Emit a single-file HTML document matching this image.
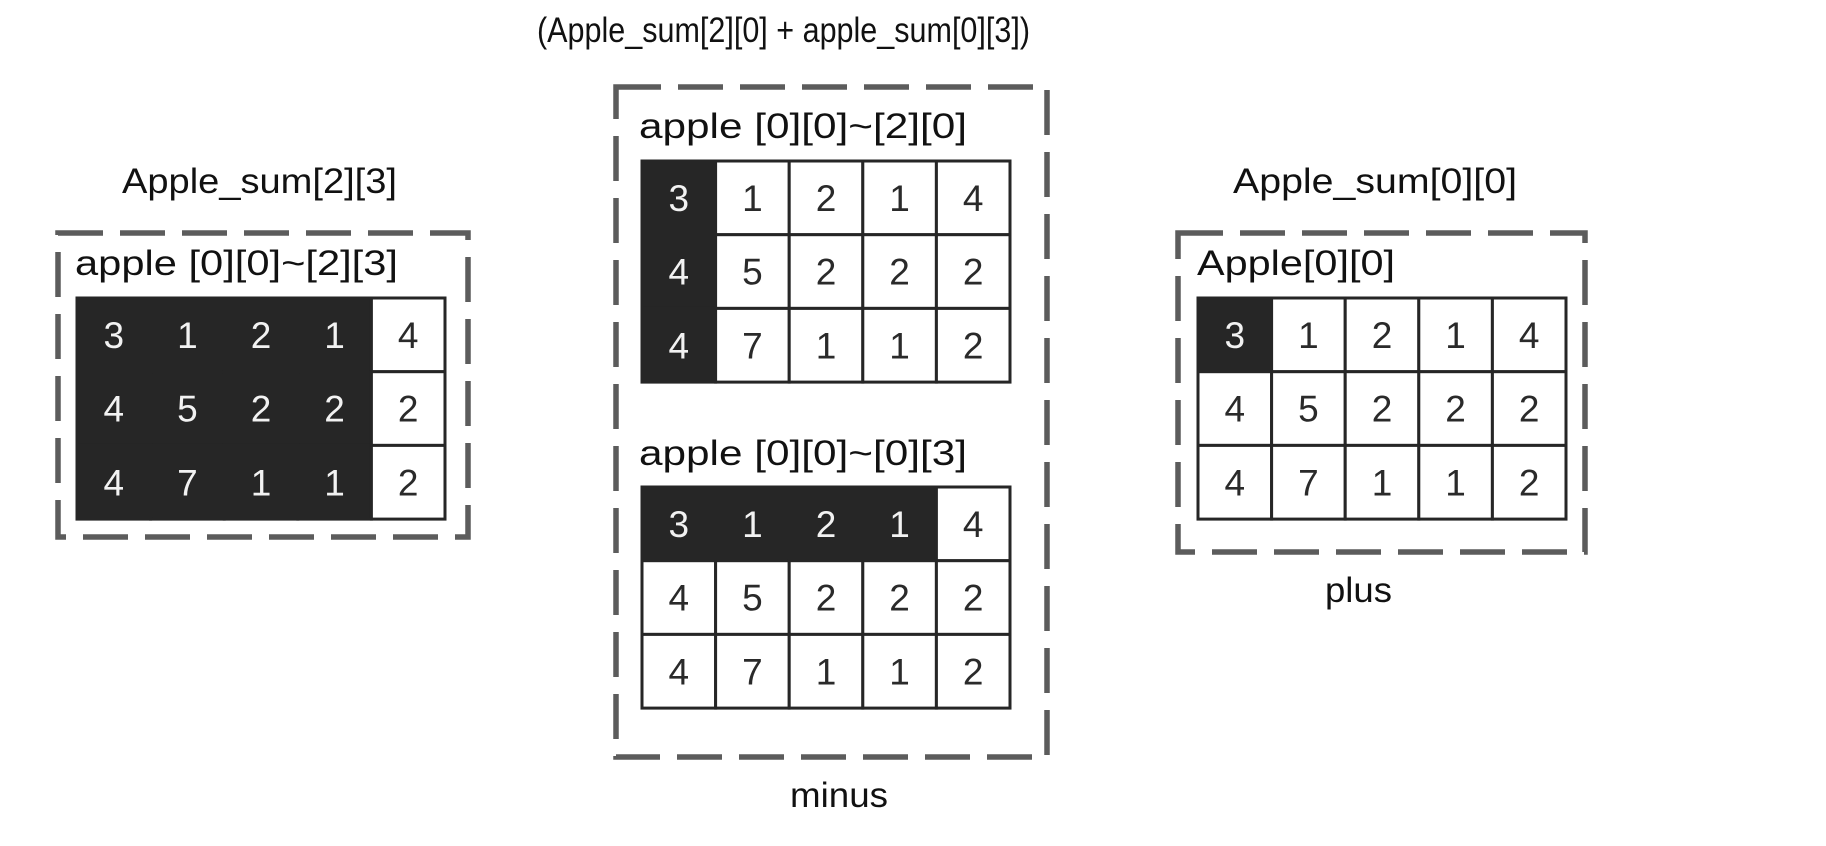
<!DOCTYPE html>
<html><head><meta charset="utf-8"><style>html,body{margin:0;padding:0;background:#fff}svg{display:block}</style></head>
<body>
<svg width="1826" height="846" viewBox="0 0 1826 846" xmlns="http://www.w3.org/2000/svg" font-family="Liberation Sans, DejaVu Sans, sans-serif">
<rect width="1826" height="846" fill="#fff"/>
<g fill="none" stroke="#5c5c5c" stroke-width="5.5" stroke-dasharray="45 17">
<rect x="58" y="233" width="410" height="304"/>
<rect x="616" y="87" width="431" height="670"/>
<rect x="1178" y="233" width="407" height="319"/>
</g>
<g fill="#111" font-size="35">
<text x="537" y="42" textLength="493" lengthAdjust="spacingAndGlyphs">(Apple_sum[2][0] + apple_sum[0][3])</text>
<text x="122" y="193" textLength="275" lengthAdjust="spacingAndGlyphs">Apple_sum[2][3]</text>
<text x="1233" y="193" textLength="284" lengthAdjust="spacingAndGlyphs">Apple_sum[0][0]</text>
<text x="75" y="275" textLength="323" lengthAdjust="spacingAndGlyphs">apple [0][0]~[2][3]</text>
<text x="639" y="138" textLength="328" lengthAdjust="spacingAndGlyphs">apple [0][0]~[2][0]</text>
<text x="639" y="465" textLength="328" lengthAdjust="spacingAndGlyphs">apple [0][0]~[0][3]</text>
<text x="1197" y="275" textLength="198" lengthAdjust="spacingAndGlyphs">Apple[0][0]</text>
<text x="790" y="807" textLength="98" lengthAdjust="spacingAndGlyphs">minus</text>
<text x="1325" y="602" textLength="67" lengthAdjust="spacingAndGlyphs">plus</text>
</g>
<g id="grids"></g>
</svg>
<script>
(function(){
var ns="http://www.w3.org/2000/svg",g=document.getElementById("grids");
var vals=[[3,1,2,1,4],[4,5,2,2,2],[4,7,1,1,2]];
var grids=[
 {x:77,y:298,dark:function(r,c){return c<4;}},
 {x:642,y:161,dark:function(r,c){return c==0;}},
 {x:642,y:487,dark:function(r,c){return r==0&&c<4;}},
 {x:1198,y:298,dark:function(r,c){return r==0&&c==0;}}
];
var W=73.6,H=73.7;
grids.forEach(function(gr){
 for(var pass=0;pass<2;pass++){
  for(var r=0;r<3;r++)for(var c=0;c<5;c++){
   var d=gr.dark(r,c);
   if((pass==0)!=d)continue;
   var re=document.createElementNS(ns,"rect");
   re.setAttribute("x",gr.x+c*W);re.setAttribute("y",gr.y+r*H);
   re.setAttribute("width",W);re.setAttribute("height",H);
   re.setAttribute("fill",d?"#262626":"#fff");
   re.setAttribute("stroke","#262626");re.setAttribute("stroke-width","3");
   g.appendChild(re);
  }
 }
 for(var r=0;r<3;r++)for(var c=0;c<5;c++){
   var t=document.createElementNS(ns,"text");
   t.setAttribute("x",gr.x+c*W+W/2);t.setAttribute("y",gr.y+r*H+H/2+13);
   t.setAttribute("text-anchor","middle");t.setAttribute("font-size","37");
   t.setAttribute("fill",gr.dark(r,c)?"#f2f2f2":"#2a2a2a");
   t.textContent=vals[r][c];g.appendChild(t);
 }
});
})();
</script>
</body></html>
